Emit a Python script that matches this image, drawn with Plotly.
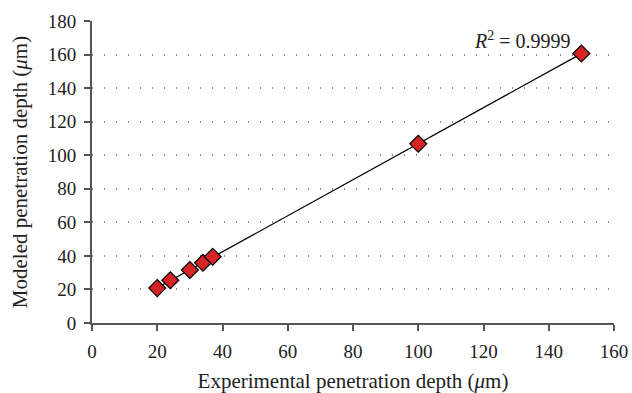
import numpy as np
import plotly.graph_objects as go

experimental = [20, 24, 30, 34, 37, 100, 150]
modeled = [20.8, 25.5, 31.6, 35.9, 39.5, 106.8, 160.6]
r2_label = "<i>R</i><sup>2</sup> = 0.9999"

slope, intercept = np.polyfit(experimental, modeled, 1)
fit_x = [min(experimental), max(experimental)]
fit_y = [slope * v + intercept for v in fit_x]

FONT = "Liberation Serif"
TXT = "#222"

fig = go.Figure()
fig.add_trace(go.Scatter(x=fit_x, y=fit_y, mode="lines",
                         line=dict(color="black", width=1.3), showlegend=False))
fig.add_trace(go.Scatter(x=experimental, y=modeled, mode="markers",
                         marker=dict(symbol="diamond", size=13, color="#d42424",
                                     line=dict(color="black", width=1.2)),
                         showlegend=False))

fig.add_annotation(x=max(experimental), y=max(modeled), text=r2_label,
                   showarrow=False, xanchor="right", yanchor="bottom",
                   xshift=-8, yshift=0, font=dict(family=FONT, size=20, color=TXT))

axis_common = dict(showline=True, linecolor="#555", linewidth=2,
                   ticks="outside", ticklen=6, tickcolor="#555", tickwidth=2,
                   tickfont=dict(family=FONT, size=19, color=TXT),
                   zeroline=False, mirror=False, automargin=False)

fig.update_layout(
    width=632, height=393,
    margin=dict(l=92, r=18, t=21, b=70),
    paper_bgcolor="white", plot_bgcolor="white",
    xaxis=dict(range=[0, 160], dtick=20, showgrid=False, ticklabelstandoff=4,
               title=dict(text="Experimental penetration depth (<i>μ</i>m)",
                          font=dict(family=FONT, size=21, color=TXT), standoff=13),
               **axis_common),
    yaxis=dict(range=[0, 180], dtick=20, showgrid=True, gridcolor="#8a8a8a",
               griddash="1px,11px", gridwidth=1.5, ticklabelstandoff=4,
               title=dict(text="Modeled penetration depth (<i>μ</i>m)",
                          font=dict(family=FONT, size=21, color=TXT), standoff=14),
               **axis_common),
)

fig.write_html("out.html")
